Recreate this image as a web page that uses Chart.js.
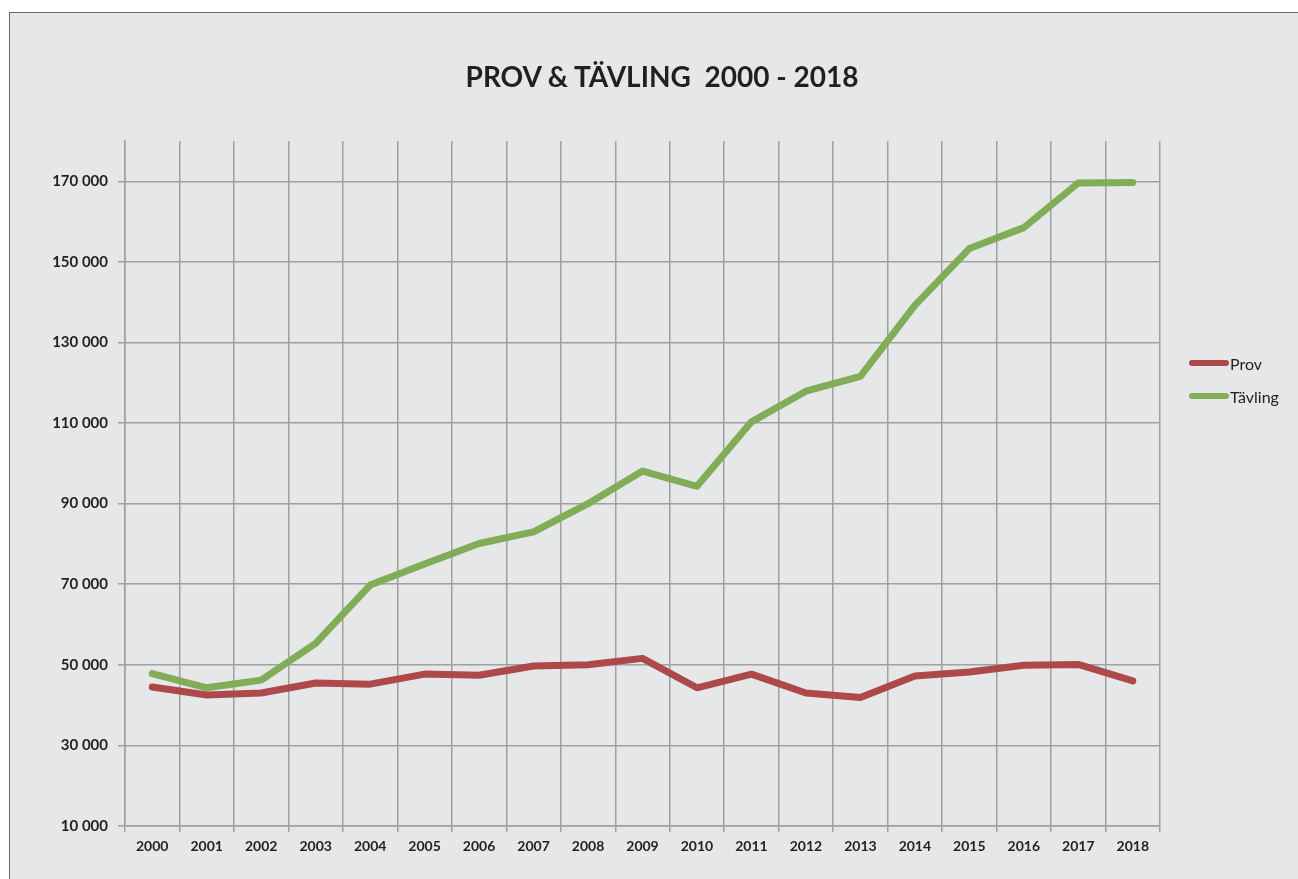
<!DOCTYPE html>
<html>
<head>
<meta charset="utf-8">
<script src="https://cdn.jsdelivr.net/npm/chart.js@4"></script>
<style>
  html, body { margin: 0; padding: 0; background: #fff; }
  body { width: 1298px; height: 879px; position: relative; overflow: hidden; font-family: Lato, sans-serif; }
  #frame {
    position: absolute; left: 9px; top: 12px; right: 0; bottom: 0;
    background: #e6e7e9;
    border-top: 1px solid #6a6a6a;
    border-left: 1px solid #6a6a6a;
  }
  #wrap { position: absolute; left: 0; top: 0; width: 1298px; height: 879px; }
  #title {
    position: absolute; left: 412px; width: 500px; top: 60px;
    text-align: center; font-size: 28px; font-weight: bold; line-height: 1.2;
    color: #231f20; white-space: pre;
  }
  #legend { position: absolute; left: 1189px; top: 352px; font-size: 16px; color: #222; }
  #legend .item { display: flex; align-items: center; height: 22px; margin-bottom: 11px; }
  #legend .swatch { width: 40px; height: 6px; border-radius: 3px; margin-right: 1px; }
</style>
</head>
<body>
<div id="frame"></div>
<div id="wrap"><canvas id="myChart" width="1298" height="879"></canvas></div>
<div id="title">PROV &amp; TÄVLING  2000 - 2018</div>
<div id="legend">
  <div class="item"><span class="swatch" style="background:#ad494a"></span>Prov</div>
  <div class="item"><span class="swatch" style="background:#80ad55"></span>Tävling</div>
</div>
<script>
const years = ['2000', '2001', '2002', '2003', '2004', '2005', '2006', '2007', '2008', '2009',
  '2010', '2011', '2012', '2013', '2014', '2015', '2016', '2017', '2018'];
const prov = [44500, 42500, 43000, 45500, 45200, 47700, 47400, 49700, 50000, 51600,
  44300, 47700, 43000, 41900, 47200, 48200, 49900, 50100, 46000];
const tavling = [47800, 44300, 46200, 55300, 69800, 75000, 80100, 83000, 90000, 98100,
  94300, 110300, 117900, 121600, 139200, 153300, 158500, 169600, 169700];
const yTicks = [10000, 30000, 50000, 70000, 90000, 110000, 130000, 150000, 170000];

const gridColor = '#9fa0a2';

const ctx = document.getElementById('myChart').getContext('2d');
new Chart(ctx, {
  type: 'line',
  data: {
    labels: years,
    datasets: [{
      label: 'Prov',
      data: prov,
      borderColor: '#ad494a',
      backgroundColor: '#ad494a',
      borderWidth: 7,
      borderCapStyle: 'round',
      borderJoinStyle: 'round',
      pointRadius: 0,
      tension: 0,
    }, {
      label: 'Tävling',
      data: tavling,
      borderColor: '#80ad55',
      backgroundColor: '#80ad55',
      borderWidth: 7,
      borderCapStyle: 'round',
      borderJoinStyle: 'round',
      pointRadius: 0,
      tension: 0,
    }]
  },
  options: {
    responsive: false,
    animation: false,
    layout: {
      padding: { left: 20, right: 138, top: 141, bottom: 10 }
    },
    plugins: {
      legend: { display: false },
      tooltip: { enabled: false }
    },
    scales: {
      x: {
        offset: true,
        grid: { offset: true, color: gridColor, lineWidth: 1.5, tickLength: 6 },
        border: { color: gridColor, width: 1.5 },
        ticks: {
          color: '#231f20',
          padding: 6,
          font: { family: 'Lato', size: 14, weight: 'bold' },
          maxRotation: 0
        },
        afterFit: function(scale) { scale.height = 43; }
      },
      y: {
        min: 10000,
        max: 180000,
        grid: { color: gridColor, lineWidth: 1.5, tickLength: 7 },
        border: { color: gridColor, width: 1.5 },
        afterBuildTicks: function(scale) {
          scale.ticks = yTicks.map(v => ({ value: v }));
        },
        ticks: {
          color: '#231f20',
          padding: 10,
          font: { family: 'Lato', size: 15, weight: 'bold' },
          callback: function(value) {
            return String(value).replace(/\B(?=(\d{3})+(?!\d))/g, ' ');
          }
        },
        afterFit: function(scale) { scale.width = 105; }
      }
    }
  }
});
</script>
</body>
</html>
